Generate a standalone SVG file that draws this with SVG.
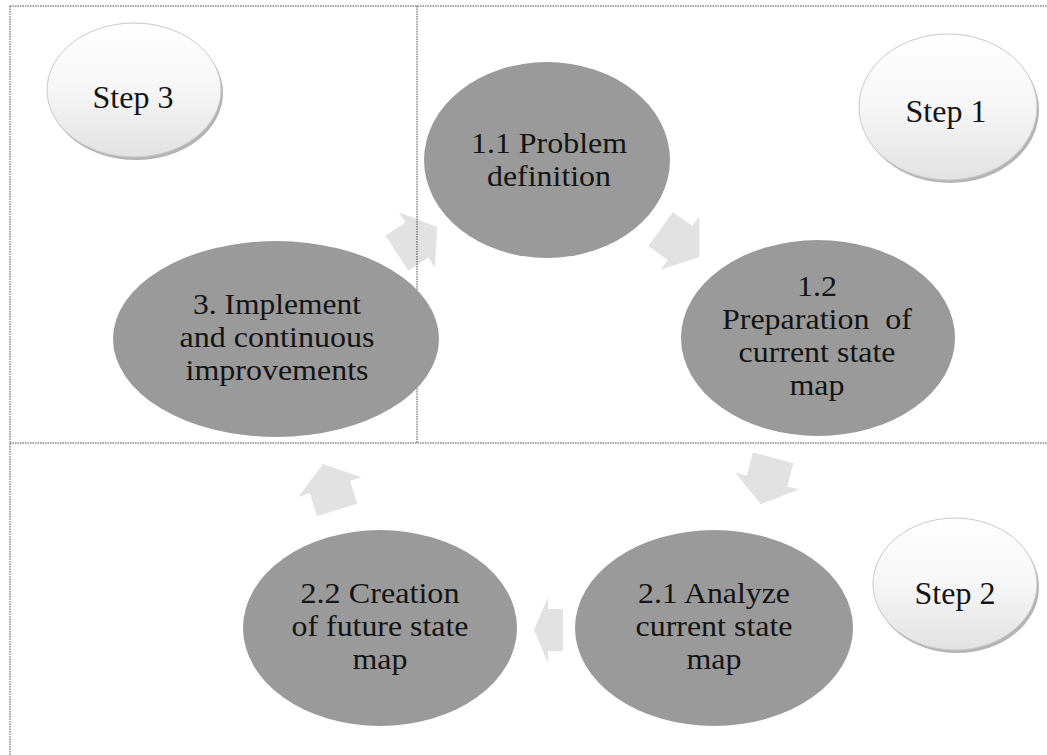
<svg xmlns="http://www.w3.org/2000/svg" width="1047" height="755" viewBox="0 0 1047 755">
  <style>
    .node { fill: #9a9a9a; }
    .txt { font-family: 'Liberation Serif', 'Times New Roman', serif; font-size: 29px; fill: #141414; text-anchor: middle; }
    .stxt { font-family: 'Liberation Serif', 'Times New Roman', serif; font-size: 32px; fill: #141414; text-anchor: middle; }
    .step { fill: url(#stepGrad); stroke: #c9c9c9; stroke-width: 1; }
    .shadow { fill: #b4b4b4; }
    .arrow { fill: #e2e2e2; }
    .frame { stroke: #4a4a4a; stroke-width: 1; stroke-dasharray: 1.5 1; fill: none; }
  </style>
  <defs>
    <linearGradient id="stepGrad" x1="0" y1="0" x2="0" y2="1">
      <stop offset="0" stop-color="#ffffff"/>
      <stop offset="0.5" stop-color="#f6f6f6"/>
      <stop offset="1" stop-color="#e2e2e2"/>
    </linearGradient>
    <path id="arrL" d="M-24,-21 L0,-21 L0,-33 L24,0 L0,33 L0,21 L-24,21 Z"/>
    <path id="arrS" d="M-15,-21 L0,-21 L0,-33 L14,0 L0,33 L0,21 L-15,21 Z"/>
  </defs>
  <rect x="0" y="0" width="1047" height="755" fill="#ffffff"/>

  <g id="connectors">
    <use href="#arrL" class="arrow" transform="translate(417,240) rotate(-33)"/>
    <use href="#arrL" class="arrow" transform="translate(680,243) rotate(36)"/>
    <use href="#arrL" class="arrow" transform="translate(767,481) rotate(105)"/>
    <use href="#arrS" class="arrow" transform="translate(548,630) rotate(180)"/>
    <use href="#arrL" class="arrow" transform="translate(330,487) rotate(-107)"/>
  </g>

  <g id="frame">
    <line class="frame" x1="10" y1="6" x2="1047" y2="6"/>
    <line class="frame" x1="10" y1="6" x2="10" y2="755"/>
    <line class="frame" x1="417" y1="6" x2="417" y2="443"/>
    <line class="frame" x1="10" y1="443" x2="1047" y2="443"/>
  </g>

  <g id="step3">
    <ellipse class="shadow" cx="136" cy="93" rx="87" ry="67"/>
    <ellipse class="step" cx="134" cy="90" rx="87" ry="67"/>
    <text class="stxt" x="133" y="108">Step 3</text>
  </g>

  <g id="step1">
    <ellipse class="shadow" cx="950" cy="110" rx="89" ry="73"/>
    <ellipse class="step" cx="948" cy="107" rx="89" ry="73"/>
    <text class="stxt" x="946" y="122">Step 1</text>
  </g>

  <g id="step2">
    <ellipse class="shadow" cx="957" cy="587" rx="82" ry="66"/>
    <ellipse class="step" cx="955" cy="584" rx="82" ry="66"/>
    <text class="stxt" x="955" y="604">Step 2</text>
  </g>

  <g id="n11">
    <ellipse class="node" cx="547" cy="160" rx="123" ry="98"/>
    <text class="txt" x="549" y="153" textLength="156" lengthAdjust="spacingAndGlyphs">1.1 Problem</text>
    <text class="txt" x="549" y="186" textLength="124" lengthAdjust="spacingAndGlyphs">definition</text>
  </g>

  <g id="n12">
    <ellipse class="node" cx="818" cy="338" rx="137" ry="98"/>
    <text class="txt" x="817" y="296" textLength="40" lengthAdjust="spacingAndGlyphs">1.2</text>
    <text class="txt" x="817" y="329" xml:space="preserve" textLength="190" lengthAdjust="spacingAndGlyphs">Preparation  of</text>
    <text class="txt" x="817" y="362" textLength="157" lengthAdjust="spacingAndGlyphs">current state</text>
    <text class="txt" x="817" y="395" textLength="55" lengthAdjust="spacingAndGlyphs">map</text>
  </g>

  <g id="n21">
    <ellipse class="node" cx="714" cy="628" rx="139" ry="98"/>
    <text class="txt" x="714" y="603" textLength="152" lengthAdjust="spacingAndGlyphs">2.1 Analyze</text>
    <text class="txt" x="714" y="636" textLength="157" lengthAdjust="spacingAndGlyphs">current state</text>
    <text class="txt" x="714" y="669" textLength="55" lengthAdjust="spacingAndGlyphs">map</text>
  </g>

  <g id="n22">
    <ellipse class="node" cx="380" cy="628" rx="137" ry="98"/>
    <text class="txt" x="380" y="603" textLength="159" lengthAdjust="spacingAndGlyphs">2.2 Creation</text>
    <text class="txt" x="380" y="636" textLength="177" lengthAdjust="spacingAndGlyphs">of future state</text>
    <text class="txt" x="380" y="669" textLength="55" lengthAdjust="spacingAndGlyphs">map</text>
  </g>

  <g id="n3">
    <ellipse class="node" cx="276" cy="339" rx="163" ry="98"/>
    <text class="txt" x="277" y="314" textLength="168" lengthAdjust="spacingAndGlyphs">3. Implement</text>
    <text class="txt" x="277" y="347" textLength="195" lengthAdjust="spacingAndGlyphs">and continuous</text>
    <text class="txt" x="277" y="380" textLength="183" lengthAdjust="spacingAndGlyphs">improvements</text>
  </g>
</svg>
